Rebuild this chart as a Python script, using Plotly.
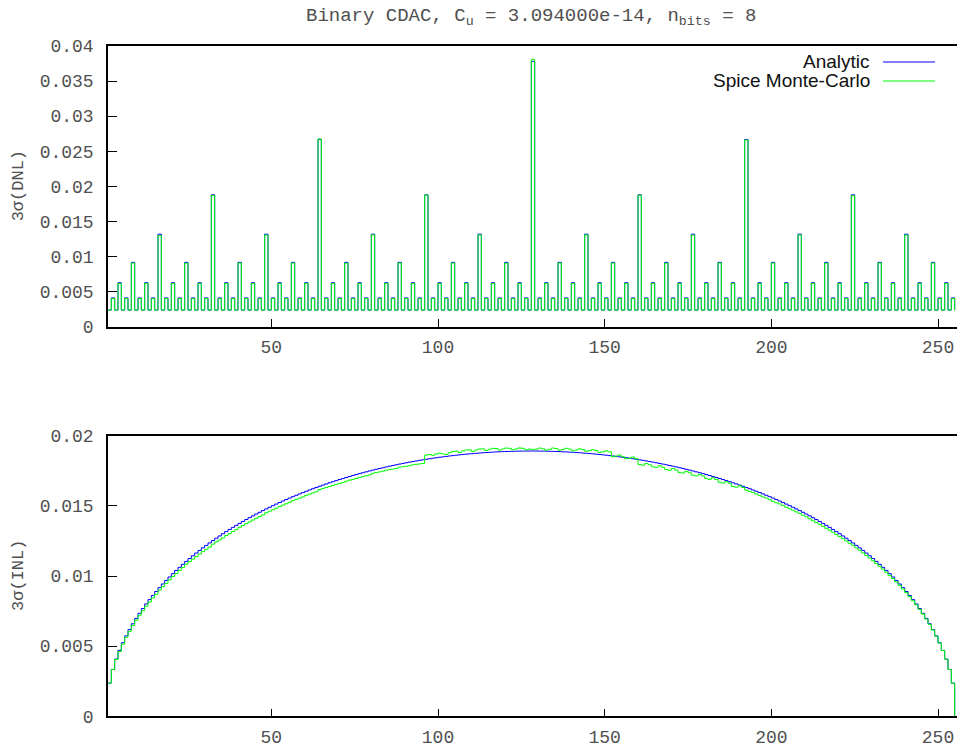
import plotly.graph_objects as go

# ---------------- data ----------------
CODES = list(range(1, 256))

DNL_ANALYTIC = [
    0.002368, 0.004101, 0.002368, 0.006265, 0.002368, 0.004101, 0.002368, 0.009171, 0.002368, 0.004101, 0.002368, 0.006265, 0.002368, 0.004101, 0.002368, 0.013184,
    0.002368, 0.004101, 0.002368, 0.006265, 0.002368, 0.004101, 0.002368, 0.009171, 0.002368, 0.004101, 0.002368, 0.006265, 0.002368, 0.004101, 0.002368, 0.018796,
    0.002368, 0.004101, 0.002368, 0.006265, 0.002368, 0.004101, 0.002368, 0.009171, 0.002368, 0.004101, 0.002368, 0.006265, 0.002368, 0.004101, 0.002368, 0.013184,
    0.002368, 0.004101, 0.002368, 0.006265, 0.002368, 0.004101, 0.002368, 0.009171, 0.002368, 0.004101, 0.002368, 0.006265, 0.002368, 0.004101, 0.002368, 0.026686,
    0.002368, 0.004101, 0.002368, 0.006265, 0.002368, 0.004101, 0.002368, 0.009171, 0.002368, 0.004101, 0.002368, 0.006265, 0.002368, 0.004101, 0.002368, 0.013184,
    0.002368, 0.004101, 0.002368, 0.006265, 0.002368, 0.004101, 0.002368, 0.009171, 0.002368, 0.004101, 0.002368, 0.006265, 0.002368, 0.004101, 0.002368, 0.018796,
    0.002368, 0.004101, 0.002368, 0.006265, 0.002368, 0.004101, 0.002368, 0.009171, 0.002368, 0.004101, 0.002368, 0.006265, 0.002368, 0.004101, 0.002368, 0.013184,
    0.002368, 0.004101, 0.002368, 0.006265, 0.002368, 0.004101, 0.002368, 0.009171, 0.002368, 0.004101, 0.002368, 0.006265, 0.002368, 0.004101, 0.002368, 0.037814,
    0.002368, 0.004101, 0.002368, 0.006265, 0.002368, 0.004101, 0.002368, 0.009171, 0.002368, 0.004101, 0.002368, 0.006265, 0.002368, 0.004101, 0.002368, 0.013184,
    0.002368, 0.004101, 0.002368, 0.006265, 0.002368, 0.004101, 0.002368, 0.009171, 0.002368, 0.004101, 0.002368, 0.006265, 0.002368, 0.004101, 0.002368, 0.018796,
    0.002368, 0.004101, 0.002368, 0.006265, 0.002368, 0.004101, 0.002368, 0.009171, 0.002368, 0.004101, 0.002368, 0.006265, 0.002368, 0.004101, 0.002368, 0.013184,
    0.002368, 0.004101, 0.002368, 0.006265, 0.002368, 0.004101, 0.002368, 0.009171, 0.002368, 0.004101, 0.002368, 0.006265, 0.002368, 0.004101, 0.002368, 0.026686,
    0.002368, 0.004101, 0.002368, 0.006265, 0.002368, 0.004101, 0.002368, 0.009171, 0.002368, 0.004101, 0.002368, 0.006265, 0.002368, 0.004101, 0.002368, 0.013184,
    0.002368, 0.004101, 0.002368, 0.006265, 0.002368, 0.004101, 0.002368, 0.009171, 0.002368, 0.004101, 0.002368, 0.006265, 0.002368, 0.004101, 0.002368, 0.018796,
    0.002368, 0.004101, 0.002368, 0.006265, 0.002368, 0.004101, 0.002368, 0.009171, 0.002368, 0.004101, 0.002368, 0.006265, 0.002368, 0.004101, 0.002368, 0.013184,
    0.002368, 0.004101, 0.002368, 0.006265, 0.002368, 0.004101, 0.002368, 0.009171, 0.002368, 0.004101, 0.002368, 0.006265, 0.002368, 0.004101, 0.002368,
]

DNL_SPICE = [
    0.002368, 0.004010, 0.002368, 0.006160, 0.002368, 0.004000, 0.002368, 0.009060, 0.002368, 0.004020, 0.002368, 0.006170, 0.002368, 0.004000, 0.002368, 0.013000,
    0.002368, 0.004010, 0.002368, 0.006150, 0.002368, 0.004010, 0.002368, 0.009050, 0.002368, 0.004000, 0.002368, 0.006170, 0.002368, 0.004020, 0.002368, 0.018700,
    0.002368, 0.004000, 0.002368, 0.006160, 0.002368, 0.004010, 0.002368, 0.009070, 0.002368, 0.004010, 0.002368, 0.006150, 0.002368, 0.004000, 0.002368, 0.013050,
    0.002368, 0.004020, 0.002368, 0.006160, 0.002368, 0.004000, 0.002368, 0.009060, 0.002368, 0.004010, 0.002368, 0.006170, 0.002368, 0.004010, 0.002368, 0.026750,
    0.002368, 0.004010, 0.002368, 0.006160, 0.002368, 0.004010, 0.002368, 0.009050, 0.002368, 0.004000, 0.002368, 0.006160, 0.002368, 0.004020, 0.002368, 0.013080,
    0.002368, 0.004000, 0.002368, 0.006170, 0.002368, 0.004010, 0.002368, 0.009070, 0.002368, 0.004010, 0.002368, 0.006150, 0.002368, 0.004000, 0.002368, 0.018750,
    0.002368, 0.004020, 0.002368, 0.006160, 0.002368, 0.004000, 0.002368, 0.009060, 0.002368, 0.004010, 0.002368, 0.006170, 0.002368, 0.004010, 0.002368, 0.013060,
    0.002368, 0.004010, 0.002368, 0.006150, 0.002368, 0.004010, 0.002368, 0.009050, 0.002368, 0.004000, 0.002368, 0.006160, 0.002368, 0.004020, 0.002368, 0.038100,
    0.002368, 0.004000, 0.002368, 0.006170, 0.002368, 0.004010, 0.002368, 0.009070, 0.002368, 0.004010, 0.002368, 0.006160, 0.002368, 0.004000, 0.002368, 0.013070,
    0.002368, 0.004020, 0.002368, 0.006160, 0.002368, 0.004000, 0.002368, 0.009060, 0.002368, 0.004010, 0.002368, 0.006150, 0.002368, 0.004010, 0.002368, 0.018720,
    0.002368, 0.004010, 0.002368, 0.006170, 0.002368, 0.004010, 0.002368, 0.009050, 0.002368, 0.004000, 0.002368, 0.006160, 0.002368, 0.004020, 0.002368, 0.013040,
    0.002368, 0.004000, 0.002368, 0.006160, 0.002368, 0.004010, 0.002368, 0.009070, 0.002368, 0.004010, 0.002368, 0.006170, 0.002368, 0.004000, 0.002368, 0.026600,
    0.002368, 0.004020, 0.002368, 0.006150, 0.002368, 0.004000, 0.002368, 0.009060, 0.002368, 0.004010, 0.002368, 0.006160, 0.002368, 0.004010, 0.002368, 0.013060,
    0.002368, 0.004010, 0.002368, 0.006170, 0.002368, 0.004010, 0.002368, 0.009050, 0.002368, 0.004000, 0.002368, 0.006160, 0.002368, 0.004020, 0.002368, 0.018650,
    0.002368, 0.004000, 0.002368, 0.006160, 0.002368, 0.004010, 0.002368, 0.009070, 0.002368, 0.004010, 0.002368, 0.006150, 0.002368, 0.004000, 0.002368, 0.013050,
    0.002368, 0.004020, 0.002368, 0.006170, 0.002368, 0.004000, 0.002368, 0.009060, 0.002368, 0.004010, 0.002368, 0.006160, 0.002368, 0.004010, 0.002368,
]

INL_ANALYTIC = [
    0.002363, 0.003336, 0.004077, 0.004699, 0.005243, 0.005732, 0.006179, 0.006592, 0.006978, 0.007340,
    0.007682, 0.008008, 0.008317, 0.008614, 0.008897, 0.009170, 0.009432, 0.009686, 0.009930, 0.010166,
    0.010395, 0.010617, 0.010832, 0.011041, 0.011245, 0.011442, 0.011635, 0.011822, 0.012005, 0.012183,
    0.012357, 0.012527, 0.012692, 0.012854, 0.013012, 0.013167, 0.013318, 0.013466, 0.013610, 0.013752,
    0.013890, 0.014026, 0.014158, 0.014288, 0.014415, 0.014540, 0.014662, 0.014781, 0.014899, 0.015013,
    0.015126, 0.015236, 0.015344, 0.015449, 0.015553, 0.015654, 0.015754, 0.015851, 0.015946, 0.016040,
    0.016132, 0.016221, 0.016309, 0.016395, 0.016480, 0.016562, 0.016643, 0.016722, 0.016799, 0.016875,
    0.016949, 0.017022, 0.017093, 0.017162, 0.017230, 0.017296, 0.017361, 0.017424, 0.017486, 0.017546,
    0.017605, 0.017662, 0.017718, 0.017773, 0.017826, 0.017877, 0.017928, 0.017977, 0.018024, 0.018071,
    0.018116, 0.018159, 0.018202, 0.018243, 0.018282, 0.018321, 0.018358, 0.018394, 0.018429, 0.018462,
    0.018494, 0.018525, 0.018555, 0.018583, 0.018610, 0.018636, 0.018661, 0.018685, 0.018707, 0.018728,
    0.018748, 0.018767, 0.018784, 0.018801, 0.018816, 0.018830, 0.018843, 0.018854, 0.018865, 0.018874,
    0.018882, 0.018889, 0.018895, 0.018900, 0.018903, 0.018906, 0.018907,
    0.018907, 0.018906, 0.018903, 0.018900, 0.018895, 0.018889, 0.018882,
    0.018874, 0.018865, 0.018854, 0.018843, 0.018830, 0.018816, 0.018801, 0.018784, 0.018767, 0.018748,
    0.018728, 0.018707, 0.018685, 0.018661, 0.018636, 0.018610, 0.018583, 0.018555, 0.018525, 0.018494,
    0.018462, 0.018429, 0.018394, 0.018358, 0.018321, 0.018282, 0.018243, 0.018202, 0.018159, 0.018116,
    0.018071, 0.018024, 0.017977, 0.017928, 0.017877, 0.017826, 0.017773, 0.017718, 0.017662, 0.017605,
    0.017546, 0.017486, 0.017424, 0.017361, 0.017296, 0.017230, 0.017162, 0.017093, 0.017022, 0.016949,
    0.016875, 0.016799, 0.016722, 0.016643, 0.016562, 0.016480, 0.016395, 0.016309, 0.016221, 0.016132,
    0.016040, 0.015946, 0.015851, 0.015754, 0.015654, 0.015553, 0.015449, 0.015344, 0.015236, 0.015126,
    0.015013, 0.014899, 0.014781, 0.014662, 0.014540, 0.014415, 0.014288, 0.014158, 0.014026, 0.013890,
    0.013752, 0.013610, 0.013466, 0.013318, 0.013167, 0.013012, 0.012854, 0.012692, 0.012527, 0.012357,
    0.012183, 0.012005, 0.011822, 0.011635, 0.011442, 0.011245, 0.011041, 0.010832, 0.010617, 0.010395,
    0.010166, 0.009930, 0.009686, 0.009432, 0.009170, 0.008897, 0.008614, 0.008317, 0.008008, 0.007682,
    0.007340, 0.006978, 0.006592, 0.006179, 0.005732, 0.005243, 0.004699, 0.004077, 0.003336, 0.002363,
    0.0,
]

INL_SPICE = [
    0.00236, 0.00333, 0.00405, 0.00462, 0.00515, 0.00564, 0.00605, 0.00648, 0.00685, 0.00720,
    0.00752, 0.00784, 0.00814, 0.00844, 0.00870, 0.00900, 0.00924, 0.00947, 0.00973, 0.00996,
    0.01017, 0.01040, 0.01060, 0.01084, 0.01102, 0.01120, 0.01138, 0.01157, 0.01174, 0.01190,
    0.01206, 0.01227, 0.01243, 0.01257, 0.01272, 0.01288, 0.01302, 0.01317, 0.01330, 0.01347,
    0.01360, 0.01373, 0.01386, 0.01399, 0.01411, 0.01424, 0.01435, 0.01451, 0.01462, 0.01472,
    0.01483, 0.01495, 0.01505, 0.01515, 0.01525, 0.01537, 0.01546, 0.01555, 0.01564, 0.01575,
    0.01583, 0.01592, 0.01600, 0.01616, 0.01624, 0.01631, 0.01638, 0.01646, 0.01653, 0.01660,
    0.01666, 0.01676, 0.01683, 0.01688, 0.01695, 0.01703, 0.01708, 0.01714, 0.01720, 0.01732,
    0.01738, 0.01742, 0.01747, 0.01755, 0.01758, 0.01762, 0.01766, 0.01776, 0.01779, 0.01782,
    0.01786, 0.01793, 0.01796, 0.01799, 0.01802, 0.01862, 0.01866, 0.01860, 0.01870, 0.01875,
    0.01870, 0.01866, 0.01878, 0.01888, 0.01890, 0.01880, 0.01892, 0.01898, 0.01899, 0.01888,
    0.01898, 0.01905, 0.01906, 0.01895, 0.01903, 0.01910, 0.01909, 0.01898, 0.01905, 0.01912,
    0.01910, 0.01900, 0.01906, 0.01913, 0.01910, 0.01900, 0.01905, 0.01902, 0.01904, 0.01912,
    0.01907, 0.01897, 0.01903, 0.01912, 0.01908, 0.01897, 0.01902, 0.01910, 0.01905, 0.01893,
    0.01898, 0.01906, 0.01901, 0.01889, 0.01893, 0.01900, 0.01894, 0.01881, 0.01885, 0.01892,
    0.01885, 0.01850, 0.01855, 0.01862, 0.01850, 0.01836, 0.01840, 0.01848, 0.01836, 0.01795,
    0.01790, 0.01802, 0.01793, 0.01778, 0.01774, 0.01786, 0.01775, 0.01758, 0.01754, 0.01766,
    0.01755, 0.01738, 0.01734, 0.01746, 0.01736, 0.01718, 0.01713, 0.01724, 0.01713, 0.01694,
    0.01689, 0.01700, 0.01688, 0.01668, 0.01662, 0.01672, 0.01661, 0.01638, 0.01633, 0.01643,
    0.01631, 0.01612, 0.01602, 0.01595, 0.01585, 0.01573, 0.01563, 0.01556, 0.01544, 0.01532,
    0.01522, 0.01514, 0.01502, 0.01490, 0.01479, 0.01469, 0.01457, 0.01446, 0.01433, 0.01422,
    0.01408, 0.01394, 0.01381, 0.01369, 0.01354, 0.01340, 0.01326, 0.01312, 0.01296, 0.01281,
    0.01266, 0.01250, 0.01233, 0.01219, 0.01201, 0.01184, 0.01165, 0.01147, 0.01128, 0.01109,
    0.01088, 0.01070, 0.01049, 0.01027, 0.01004, 0.00982, 0.00958, 0.00933, 0.00907, 0.00881,
    0.00853, 0.00824, 0.00794, 0.00762, 0.00729, 0.00693, 0.00655, 0.00615, 0.00571, 0.00522,
    0.00469, 0.00407, 0.00333, 0.00236, 0.0,
]

X_TICKS = [50, 100, 150, 200, 250]
DNL_TICKS = [0, 0.005, 0.01, 0.015, 0.02, 0.025, 0.03, 0.035, 0.04]
DNL_TICK_TEXT = ["0", "0.005", "0.01", "0.015", "0.02", "0.025", "0.03", "0.035", "0.04"]
INL_TICKS = [0, 0.005, 0.01, 0.015, 0.02]
INL_TICK_TEXT = ["0", "0.005", "0.01", "0.015", "0.02"]

SERIES_NAMES = ["Analytic", "Spice Monte-Carlo"]
SERIES_COLORS = ["#0000ff", "#00ff00"]

TITLE = "Binary CDAC, C<sub>u</sub> = 3.094000e-14, n<sub>bits</sub> = 8"

# ---------------- figure ----------------
W, H = 957, 749
L = 108
MONO = "Liberation Mono"
TXT = "#505050"

fig = go.Figure()
for ys, name, col in zip([DNL_ANALYTIC, DNL_SPICE], SERIES_NAMES, SERIES_COLORS):
    fig.add_trace(go.Scatter(x=CODES, y=ys, mode="lines", name=name,
                             line=dict(color=col, width=1, shape="hv"),
                             xaxis="x", yaxis="y", showlegend=False))
for ys, name, col in zip([INL_ANALYTIC, INL_SPICE], SERIES_NAMES, SERIES_COLORS):
    fig.add_trace(go.Scatter(x=CODES, y=ys, mode="lines", name=name,
                             line=dict(color=col, width=1, shape="hv"),
                             xaxis="x2", yaxis="y2", showlegend=False))

def py(px):
    return 1 - px / H

def pxx(px):
    return (px - L) / (W - L)

axis_common = dict(showline=True, linecolor="black", linewidth=1.5,
                   ticks="inside", tickcolor="black", tickwidth=1,
                   showgrid=False, zeroline=False, automargin=False,
                   tickfont=dict(family=MONO, size=18, color=TXT))

xr = [1, 255.7]
fig.update_layout(
    width=W, height=H,
    margin=dict(l=L, r=0, t=0, b=0, autoexpand=False),
    paper_bgcolor="white", plot_bgcolor="white",
    xaxis=dict(domain=[0, 1], range=xr, anchor="y", tickvals=X_TICKS,
               ticklen=8, ticklabelstandoff=3, mirror=True, **axis_common),
    yaxis=dict(domain=[py(326.7), py(46)], range=[0, 0.04], anchor="x",
               tickvals=DNL_TICKS, ticktext=DNL_TICK_TEXT, ticklen=9,
               ticklabelstandoff=9, mirror=False, **axis_common),
    xaxis2=dict(domain=[0, 1], range=xr, anchor="y2", tickvals=X_TICKS,
                ticklen=8, ticklabelstandoff=3, mirror=True, **axis_common),
    yaxis2=dict(domain=[py(716.3), py(435.7)], range=[0, 0.02], anchor="x2",
                tickvals=INL_TICKS, ticktext=INL_TICK_TEXT, ticklen=9,
                ticklabelstandoff=9, mirror=False, **axis_common),
)

# title
fig.add_annotation(text=TITLE, xref="paper", yref="paper", x=pxx(531), y=py(17),
                   xanchor="center", yanchor="middle", showarrow=False,
                   font=dict(family=MONO, size=19, color=TXT))

# y-axis titles
for text, yc in [("3σ(DNL)", (46 + 326.7) / 2), ("3σ(INL)", (435.7 + 716.3) / 2)]:
    fig.add_annotation(text=text, xref="paper", yref="paper", x=pxx(18), y=py(yc),
                       xanchor="center", yanchor="middle", textangle=-90,
                       showarrow=False, font=dict(family=MONO, size=17, color=TXT))

# gnuplot-style key (text left, sample right)
for name, col, yc in zip(SERIES_NAMES, SERIES_COLORS, [62, 81]):
    fig.add_annotation(text=name, xref="paper", yref="paper", x=pxx(872), y=py(yc),
                       xanchor="right", yanchor="middle", showarrow=False,
                       font=dict(family="Liberation Sans", size=19, color="#111111"))
    fig.add_shape(type="line", xref="paper", yref="paper",
                  x0=pxx(883), x1=pxx(935), y0=py(yc), y1=py(yc),
                  line=dict(color=col, width=1))

fig.write_html("out.html",
               config={"displayModeBar": False},
               post_script="document.body.style.margin='0';document.body.style.padding='0';"
                           "document.documentElement.style.overflow='hidden';")
